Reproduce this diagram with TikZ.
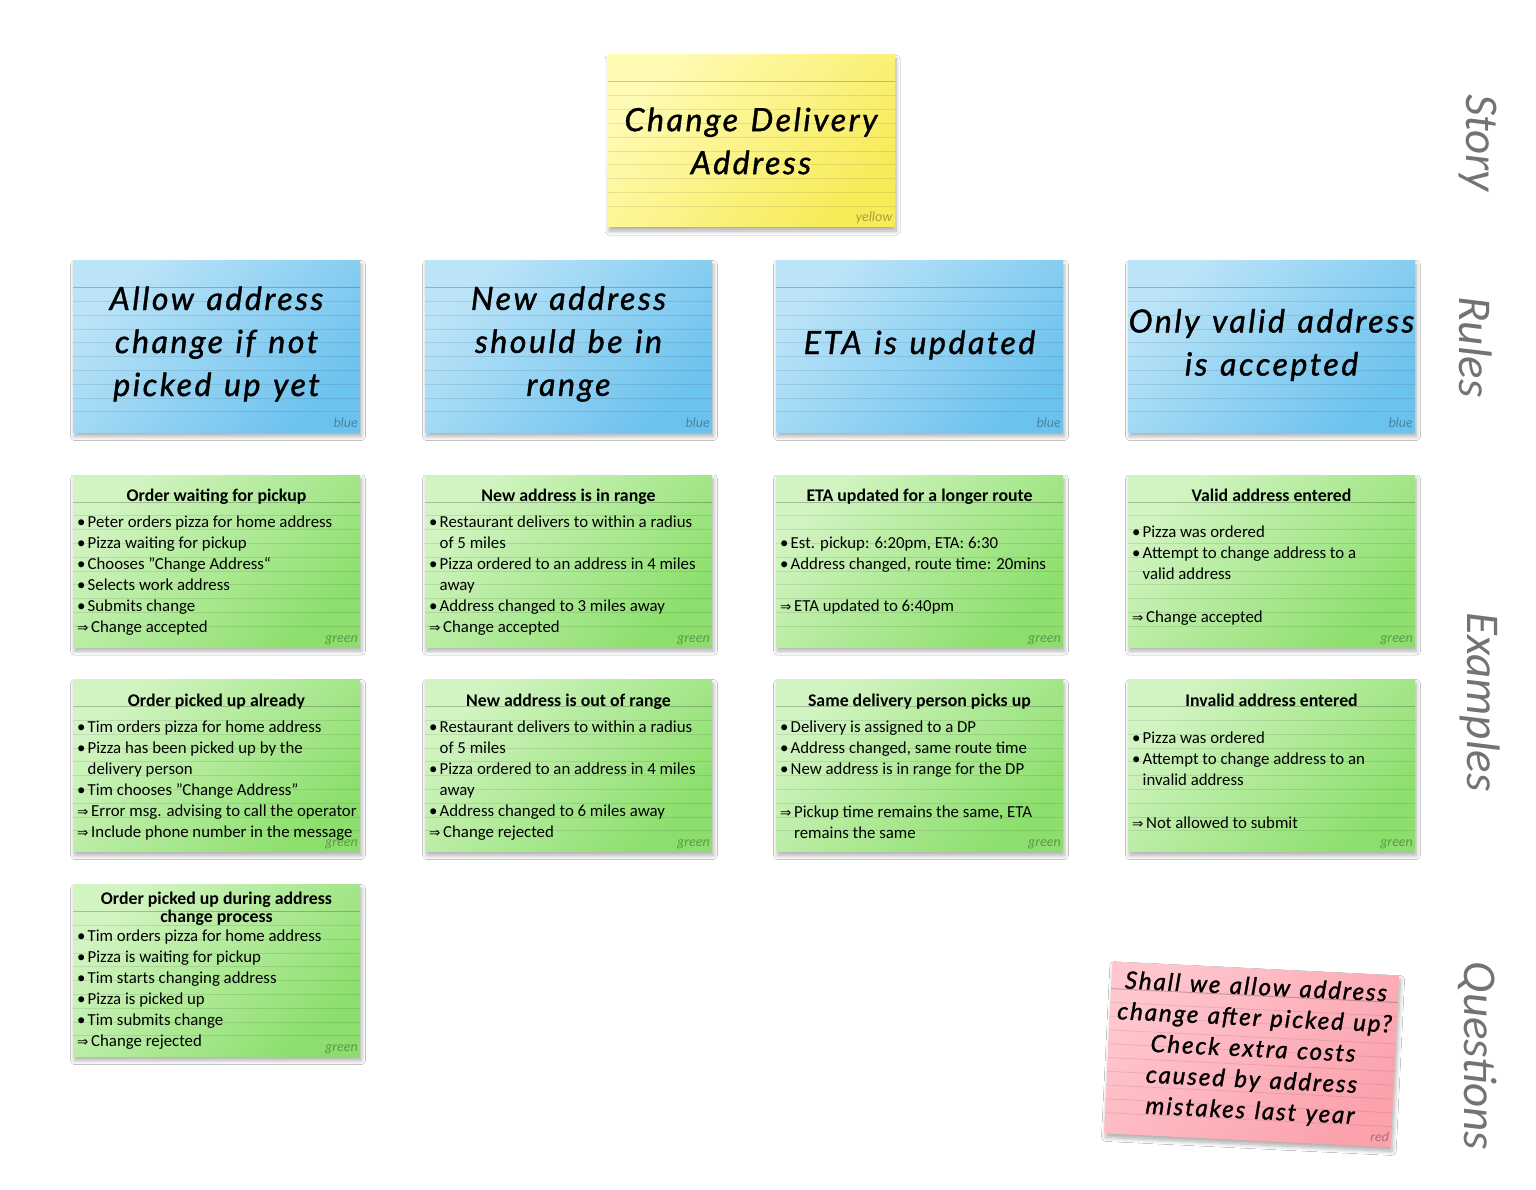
\documentclass[tikz,border=0pt]{standalone}
\usepackage{fontspec}
\setmainfont{Carlito}
\newfontfamily\handf{Lato}[LetterSpace=8, FakeBold=1.2, WordSpace=1.25]
\newfontfamily\symf{DejaVu Sans}
\usetikzlibrary{shadows.blur}
\definecolor{ylA}{HTML}{FFFBB5}
\definecolor{ylB}{HTML}{F7EB58}
\definecolor{blA}{HTML}{BCE4F8}
\definecolor{blB}{HTML}{6CC2EE}
\definecolor{grA}{HTML}{D2F4C2}
\definecolor{grB}{HTML}{8CDF6C}
\definecolor{rdA}{HTML}{FFC6CE}
\definecolor{rdB}{HTML}{FBA2AD}
\newcommand\bl{\makebox[10.5pt][l]{•}}
\newcommand\ar{\makebox[14pt][l]{\symf\fontsize{13.5}{21}\selectfont ⇒}}
\newcommand\ind{\hspace*{10.5pt}}
\newcommand\indA{\hspace*{14pt}}
\tikzset{
  cardbase/.style={minimum width=287pt, minimum height=172pt, inner sep=0pt, draw=none,
    blur shadow={shadow xshift=1.5pt, shadow yshift=-4pt, shadow blur radius=4pt, shadow blur steps=8, shadow opacity=32}},
  yellowcard/.style={top color=ylA, bottom color=ylB, shading angle=45},
  bluecard/.style={top color=blA, bottom color=blB, shading angle=45},
  greencard/.style={top color=grA, bottom color=grB, shading angle=45},
  redcard/.style={top color=rdA, bottom color=rdB, shading angle=45},
  headline/.style={draw=black, opacity=.22, line width=1pt},
  ruleline/.style={draw=black, opacity=.09, line width=.8pt},
  tag/.style={anchor=base east, font=\fontsize{14}{16}\selectfont\itshape, text=black, text opacity=.32, inner sep=0pt},
  hand/.style={align=center, font=\handf\itshape\fontsize{32}{43}\selectfont, inner sep=0pt},
  gtitle/.style={font=\bfseries\fontsize{17.8}{21}\selectfont, inner sep=0pt, anchor=base},
  gbody/.style={font=\fontsize{16.8}{21}\selectfont, align=left, anchor=north west, inner sep=0pt},
  side/.style={font=\itshape\fontsize{47}{50}\selectfont, text=black!55, rotate=-90, inner sep=0pt},
}
% #1 name, #2 x, #3 y, #4 angle, #5 colour
\newcommand\stcard[5]{%
  \begin{scope}[shift={(#2,#3)}, rotate=#4]
    \node[cardbase, #5card, transform shape] (#1) at (0,0) {};
    \draw[headline] (-143.5,-59) -- (143.5,-59);
    \foreach \k in {1,...,9}{\draw[ruleline] (-143.5,-59+13.8*\k) -- (143.5,-59+13.8*\k);}
    \node[tag, transform shape] (#1tag) at (141.5,81) {#5};
  \end{scope}}
\begin{document}
\begin{tikzpicture}[x=1pt, y=-1pt]
\useasboundingbox (0,0) rectangle (1536,1190);
\fill[white] (0,0) rectangle (1536,1190);

% story
\stcard{story}{751}{141}{0}{yellow}
\node[hand] (storytxt) at (751,141) {Change Delivery\\Address};

% rules
\stcard{rule1}{216.5}{346.5}{0}{blue}
\stcard{rule2}{568.5}{346.5}{0}{blue}
\stcard{rule3}{919.5}{346.5}{0}{blue}
\stcard{rule4}{1271.5}{346.5}{0}{blue}
\node[hand] (rule1txt) at (216.5,344) {Allow address\\change if not\\picked up yet};
\node[hand] (rule2txt) at (568.5,344) {New address\\should be in\\range};
\node[hand] (rule3txt) at (919.5,345) {ETA is updated};
\node[hand] (rule4txt) at (1271.5,345) {Only valid address\\is accepted};

% examples row 1
\stcard{ex11}{216.5}{561}{0}{green}
\stcard{ex21}{568.5}{561}{0}{green}
\stcard{ex31}{919.5}{561}{0}{green}
\stcard{ex41}{1271.5}{561}{0}{green}
\node[gtitle] (ex11t) at (216.5,501) {Order waiting for pickup};
\node[gtitle] (ex21t) at (568.5,501) {New address is in range};
\node[gtitle] (ex31t) at (919.5,501) {ETA updated for a longer route};
\node[gtitle] (ex41t) at (1271.5,501) {Valid address entered};
\node[gbody] (ex11b) at (77,512.3) {\strut\bl Peter orders pizza for home address\\ \bl Pizza waiting for pickup\\ \bl Chooses "Change Address“\\ \bl Selects work address\\ \bl Submits change\\ \ar Change accepted};
\node[gbody] (ex21b) at (429,512.3) {\strut\bl Restaurant delivers to within a radius\\ \ind of 5 miles\\ \bl Pizza ordered to an address in 4 miles\\ \ind away\\ \bl Address changed to 3 miles away\\ \ar Change accepted};
\node[gbody] (ex31b) at (780,533.3) {\strut\bl Est. pickup: 6:20pm, ETA: 6:30\\ \bl Address changed, route time: 20mins\\[21pt] \ar ETA updated to 6:40pm};
\node[gbody] (ex41b) at (1132,522.3) {\strut\bl Pizza was ordered\\ \bl Attempt to change address to a\\ \ind valid address\\[22pt] \ar Change accepted};

% examples row 2
\stcard{ex12}{216.5}{765.5}{0}{green}
\stcard{ex22}{568.5}{765.5}{0}{green}
\stcard{ex32}{919.5}{765.5}{0}{green}
\stcard{ex42}{1271.5}{765.5}{0}{green}
\node[gtitle] (ex12t) at (216.5,706) {Order picked up already};
\node[gtitle] (ex22t) at (568.5,706) {New address is out of range};
\node[gtitle] (ex32t) at (919.5,706) {Same delivery person picks up};
\node[gtitle] (ex42t) at (1271.5,706) {Invalid address entered};
\node[gbody] (ex12b) at (77,717.3) {\strut\bl Tim orders pizza for home address\\ \bl Pizza has been picked up by the\\ \ind delivery person\\ \bl Tim chooses "Change Address"\\ \ar Error msg. advising to call the operator\\ \ar Include phone number in the message};
\node[gbody] (ex22b) at (429,717.3) {\strut\bl Restaurant delivers to within a radius\\ \ind of 5 miles\\ \bl Pizza ordered to an address in 4 miles\\ \ind away\\ \bl Address changed to 6 miles away\\ \ar Change rejected};
\node[gbody] (ex32b) at (780,717.3) {\strut\bl Delivery is assigned to a DP\\ \bl Address changed, same route time\\ \bl New address is in range for the DP\\[22pt] \ar Pickup time remains the same, ETA\\ \indA remains the same};
\node[gbody] (ex42b) at (1132,728.3) {\strut\bl Pizza was ordered\\ \bl Attempt to change address to an\\ \ind invalid address\\[22pt] \ar Not allowed to submit};

% examples row 3
\stcard{ex13}{216.5}{970.5}{0}{green}
\node[gtitle, anchor=north, align=center, font=\bfseries\fontsize{17.8}{15}\selectfont] (ex13t) at (216.5,891.5) {\strut Order picked up during address\\change process};
\node[gbody] (ex13b) at (77,926.3) {\strut\bl Tim orders pizza for home address\\ \bl Pizza is waiting for pickup\\ \bl Tim starts changing address\\ \bl Pizza is picked up\\ \bl Tim submits change\\ \ar Change rejected};

% question
\stcard{quest}{1251.5}{1054.5}{-2.8}{red}
\node[hand, rotate=-2.8, font=\handf\itshape\fontsize{24}{31}\selectfont] (questtxt) at (1253,1050) {Shall we allow address\\change after picked up?\\Check extra costs\\caused by address\\mistakes last year};

% side labels
\node[side] (lstory) at (1478,143) {Story};
\node[side] (lrules) at (1476,347) {Rules};
\node[side] (lexamples) at (1480,702) {Examples};
\node[side] (lquestions) at (1478,1056) {Questions};
\end{tikzpicture}
\end{document}
